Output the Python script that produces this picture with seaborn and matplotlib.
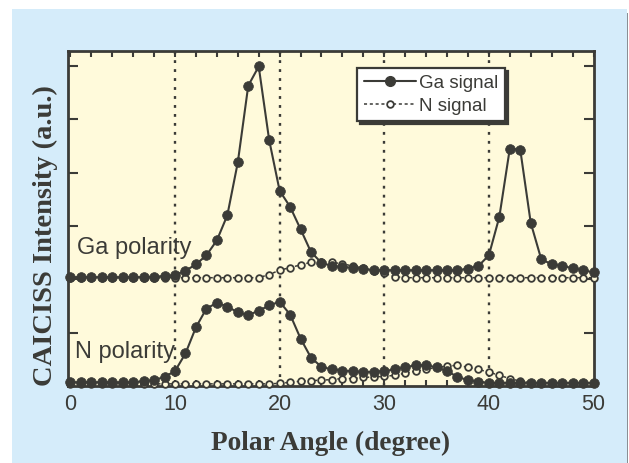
import numpy as np
import pandas as pd
import matplotlib
matplotlib.use("Agg")
import matplotlib.pyplot as plt
from matplotlib.lines import Line2D
from matplotlib.patches import Rectangle
import seaborn as sns

# ---------------- data ----------------
angles = list(range(0, 51))  # polar angle (degree), 1-degree steps

ga_offset = 2.0  # vertical offset of the Ga-polarity curves

# Ga polarity sample (relative to offset)
ga_pol_ga = [0.04, 0.04, 0.04, 0.04, 0.04, 0.04, 0.04, 0.04, 0.05, 0.06,
             0.08, 0.16, 0.28, 0.45, 0.73, 1.20, 2.19, 3.63, 3.99, 2.61,
             1.66, 1.36, 0.94, 0.51, 0.31, 0.25, 0.23, 0.22, 0.20, 0.17,
             0.17, 0.17, 0.17, 0.17, 0.17, 0.17, 0.17, 0.17, 0.20, 0.25,
             0.45, 1.17, 2.45, 2.43, 1.06, 0.38, 0.28, 0.25, 0.21, 0.17,
             0.13]
ga_pol_n = [0.03, 0.03, 0.03, 0.03, 0.03, 0.03, 0.03, 0.03, 0.03, 0.03,
            0.03, 0.03, 0.03, 0.03, 0.03, 0.03, 0.03, 0.03, 0.03, 0.09,
            0.17, 0.22, 0.27, 0.32, 0.33, 0.32, 0.29, 0.25, 0.21, 0.16,
            0.11, 0.05, 0.03, 0.03, 0.03, 0.03, 0.03, 0.03, 0.03, 0.03,
            0.03, 0.03, 0.03, 0.03, 0.03, 0.03, 0.03, 0.03, 0.03, 0.03,
            0.03]

# N polarity sample
n_pol_ga = [0.07, 0.07, 0.07, 0.07, 0.07, 0.07, 0.07, 0.09, 0.11, 0.17,
            0.28, 0.61, 1.10, 1.45, 1.56, 1.49, 1.38, 1.33, 1.41, 1.51,
            1.58, 1.34, 0.89, 0.53, 0.36, 0.31, 0.29, 0.28, 0.26, 0.27,
            0.28, 0.31, 0.35, 0.39, 0.39, 0.35, 0.28, 0.17, 0.11, 0.08,
            0.06, 0.06, 0.06, 0.06, 0.06, 0.06, 0.06, 0.06, 0.06, 0.06,
            0.06]
n_pol_n = [0.04, 0.04, 0.04, 0.04, 0.04, 0.04, 0.04, 0.04, 0.04, 0.04,
           0.04, 0.04, 0.04, 0.04, 0.04, 0.04, 0.04, 0.04, 0.04, 0.04,
           0.05, 0.07, 0.09, 0.10, 0.11, 0.12, 0.14, 0.14, 0.16, 0.17,
           0.18, 0.20, 0.24, 0.28, 0.31, 0.35, 0.37, 0.39, 0.35, 0.31,
           0.26, 0.20, 0.14, 0.09, 0.06, 0.06, 0.06, 0.06, 0.06, 0.06,
           0.06]

x_ticks = [0, 10, 20, 30, 40, 50]
x_tick_labels = ["0", "10", "20", "30", "40", "50"]
grid_x = [10, 20, 30, 40]
legend_labels = ["Ga signal", "N signal"]
annotations = ["Ga polarity", "N polarity"]
x_label = "Polar Angle (degree)"
y_label = "CAICISS Intensity (a.u.)"

# ---------------- style ----------------
sns.set_style("white")
DARK = "#3b3b37"
BLUE = "#d5ecfa"
YELLOW = "#fffadb"
plt.rcParams["font.family"] = ["Liberation Sans", "DejaVu Sans"]

fig = plt.figure(figsize=(6.29, 4.63), dpi=100)
fig.patch.set_facecolor("white")
W, H = 629, 463

# blue panel
fig.add_artist(Rectangle((12 / W, 0), 615 / W, (H - 9) / H,
                         transform=fig.transFigure, facecolor=BLUE,
                         edgecolor="none", zorder=0))
fig.add_artist(Rectangle((626.5 / W, 0), 1.5 / W, (H - 13) / H,
                         transform=fig.transFigure, facecolor="#8a8f94",
                         edgecolor="none", zorder=0))

l, r, t, b = 68.3, 593.5, 51, 386
ax = fig.add_axes([l / W, 1 - b / H, (r - l) / W, (b - t) / H])
ax.set_facecolor(YELLOW)

# vertical dotted reference lines
for gx in grid_x:
    ax.axvline(gx, color=DARK, lw=1.7, linestyle=(0, (1.2, 2.6)), zorder=1)

df = pd.DataFrame({
    "angle": angles * 4,
    "intensity": [v + ga_offset for v in ga_pol_n] + [v + ga_offset for v in ga_pol_ga]
                 + n_pol_n + n_pol_ga,
    "curve": ["gaN"] * 51 + ["gaGa"] * 51 + ["nN"] * 51 + ["nGa"] * 51,
})

n_kws = dict(color=DARK, linewidth=1.1, linestyle=(0, (2, 1.8)), marker="o",
             markersize=4.8, markerfacecolor=YELLOW, markeredgecolor=DARK,
             markeredgewidth=1.3)
ga_kws = dict(color=DARK, linewidth=1.5, linestyle="-", marker="o",
              markersize=7.0, markerfacecolor=DARK, markeredgecolor=DARK,
              markeredgewidth=0.5)

for key, kws in [("gaN", n_kws), ("nN", n_kws), ("gaGa", ga_kws), ("nGa", ga_kws)]:
    sub = df[df["curve"] == key]
    sns.lineplot(data=sub, x="angle", y="intensity", ax=ax, legend=False,
                 estimator=None, sort=True, zorder=3, clip_on=False, **kws)

ax.set_xlim(-0.2, 50)
ax.set_ylim(0, 6.28)
ax.set_xlabel("")
ax.set_ylabel("")

ax.set_xticks(x_ticks)
ax.set_xticklabels(x_tick_labels)
ax.set_xticks(np.arange(0, 51, 2), minor=True)
ax.set_yticks([1, 2, 3, 4, 5, 6])
ax.set_yticklabels([])
ax.tick_params(axis="x", which="both", direction="in", top=True, bottom=True,
               length=4.2, width=1.5, color=DARK, labelsize=15.5,
               labelcolor=DARK, pad=5.5)
ax.tick_params(axis="y", which="major", direction="in", left=True, right=True,
               length=7.5, width=1.5, color=DARK, labelleft=False)
for s in ax.spines.values():
    s.set_color(DARK)
    s.set_linewidth(2.0)
    s.set_visible(True)

# annotations
ax.text(0.6, 2.48, annotations[0], fontsize=17, color=DARK, ha="left", va="baseline", zorder=4)
ax.text(0.43, 0.525, annotations[1], fontsize=17, color=DARK, ha="left", va="baseline", zorder=4)

# legend
handles = [
    Line2D([], [], color=DARK, lw=1.5, marker="o", markersize=7.0,
           markerfacecolor=DARK, markeredgecolor=DARK),
    Line2D([], [], color=DARK, lw=1.1, linestyle=(0, (2, 1.8)), marker="o",
           markersize=4.8, markerfacecolor="white", markeredgecolor=DARK,
           markeredgewidth=1.3),
]
leg = ax.legend(handles, legend_labels, loc="upper left",
                bbox_to_anchor=(0.5497, 0.949), fontsize=13.5, frameon=True,
                fancybox=False, framealpha=1, edgecolor=DARK, facecolor="white",
                handlelength=2.8, handletextpad=0.15, borderpad=0.35,
                labelspacing=0.3, borderaxespad=0, numpoints=1,
                shadow={"color": DARK, "alpha": 1, "ox": 2.2, "oy": -2.2})
leg.get_frame().set_linewidth(1.6)
for txt in leg.get_texts():
    txt.set_color(DARK)
leg.set_zorder(6)

# axis labels
fig.text(331 / W, 1 - 443 / H, x_label, fontsize=19.7, fontweight="bold",
         family=["Liberation Serif", "DejaVu Serif"], color=DARK,
         ha="center", va="center")
fig.text(45 / W, 1 - 236 / H, y_label, fontsize=20.5, fontweight="bold",
         family=["Liberation Serif", "DejaVu Serif"], color=DARK,
         ha="center", va="center", rotation=90)

fig.savefig("out.png", dpi=100)
